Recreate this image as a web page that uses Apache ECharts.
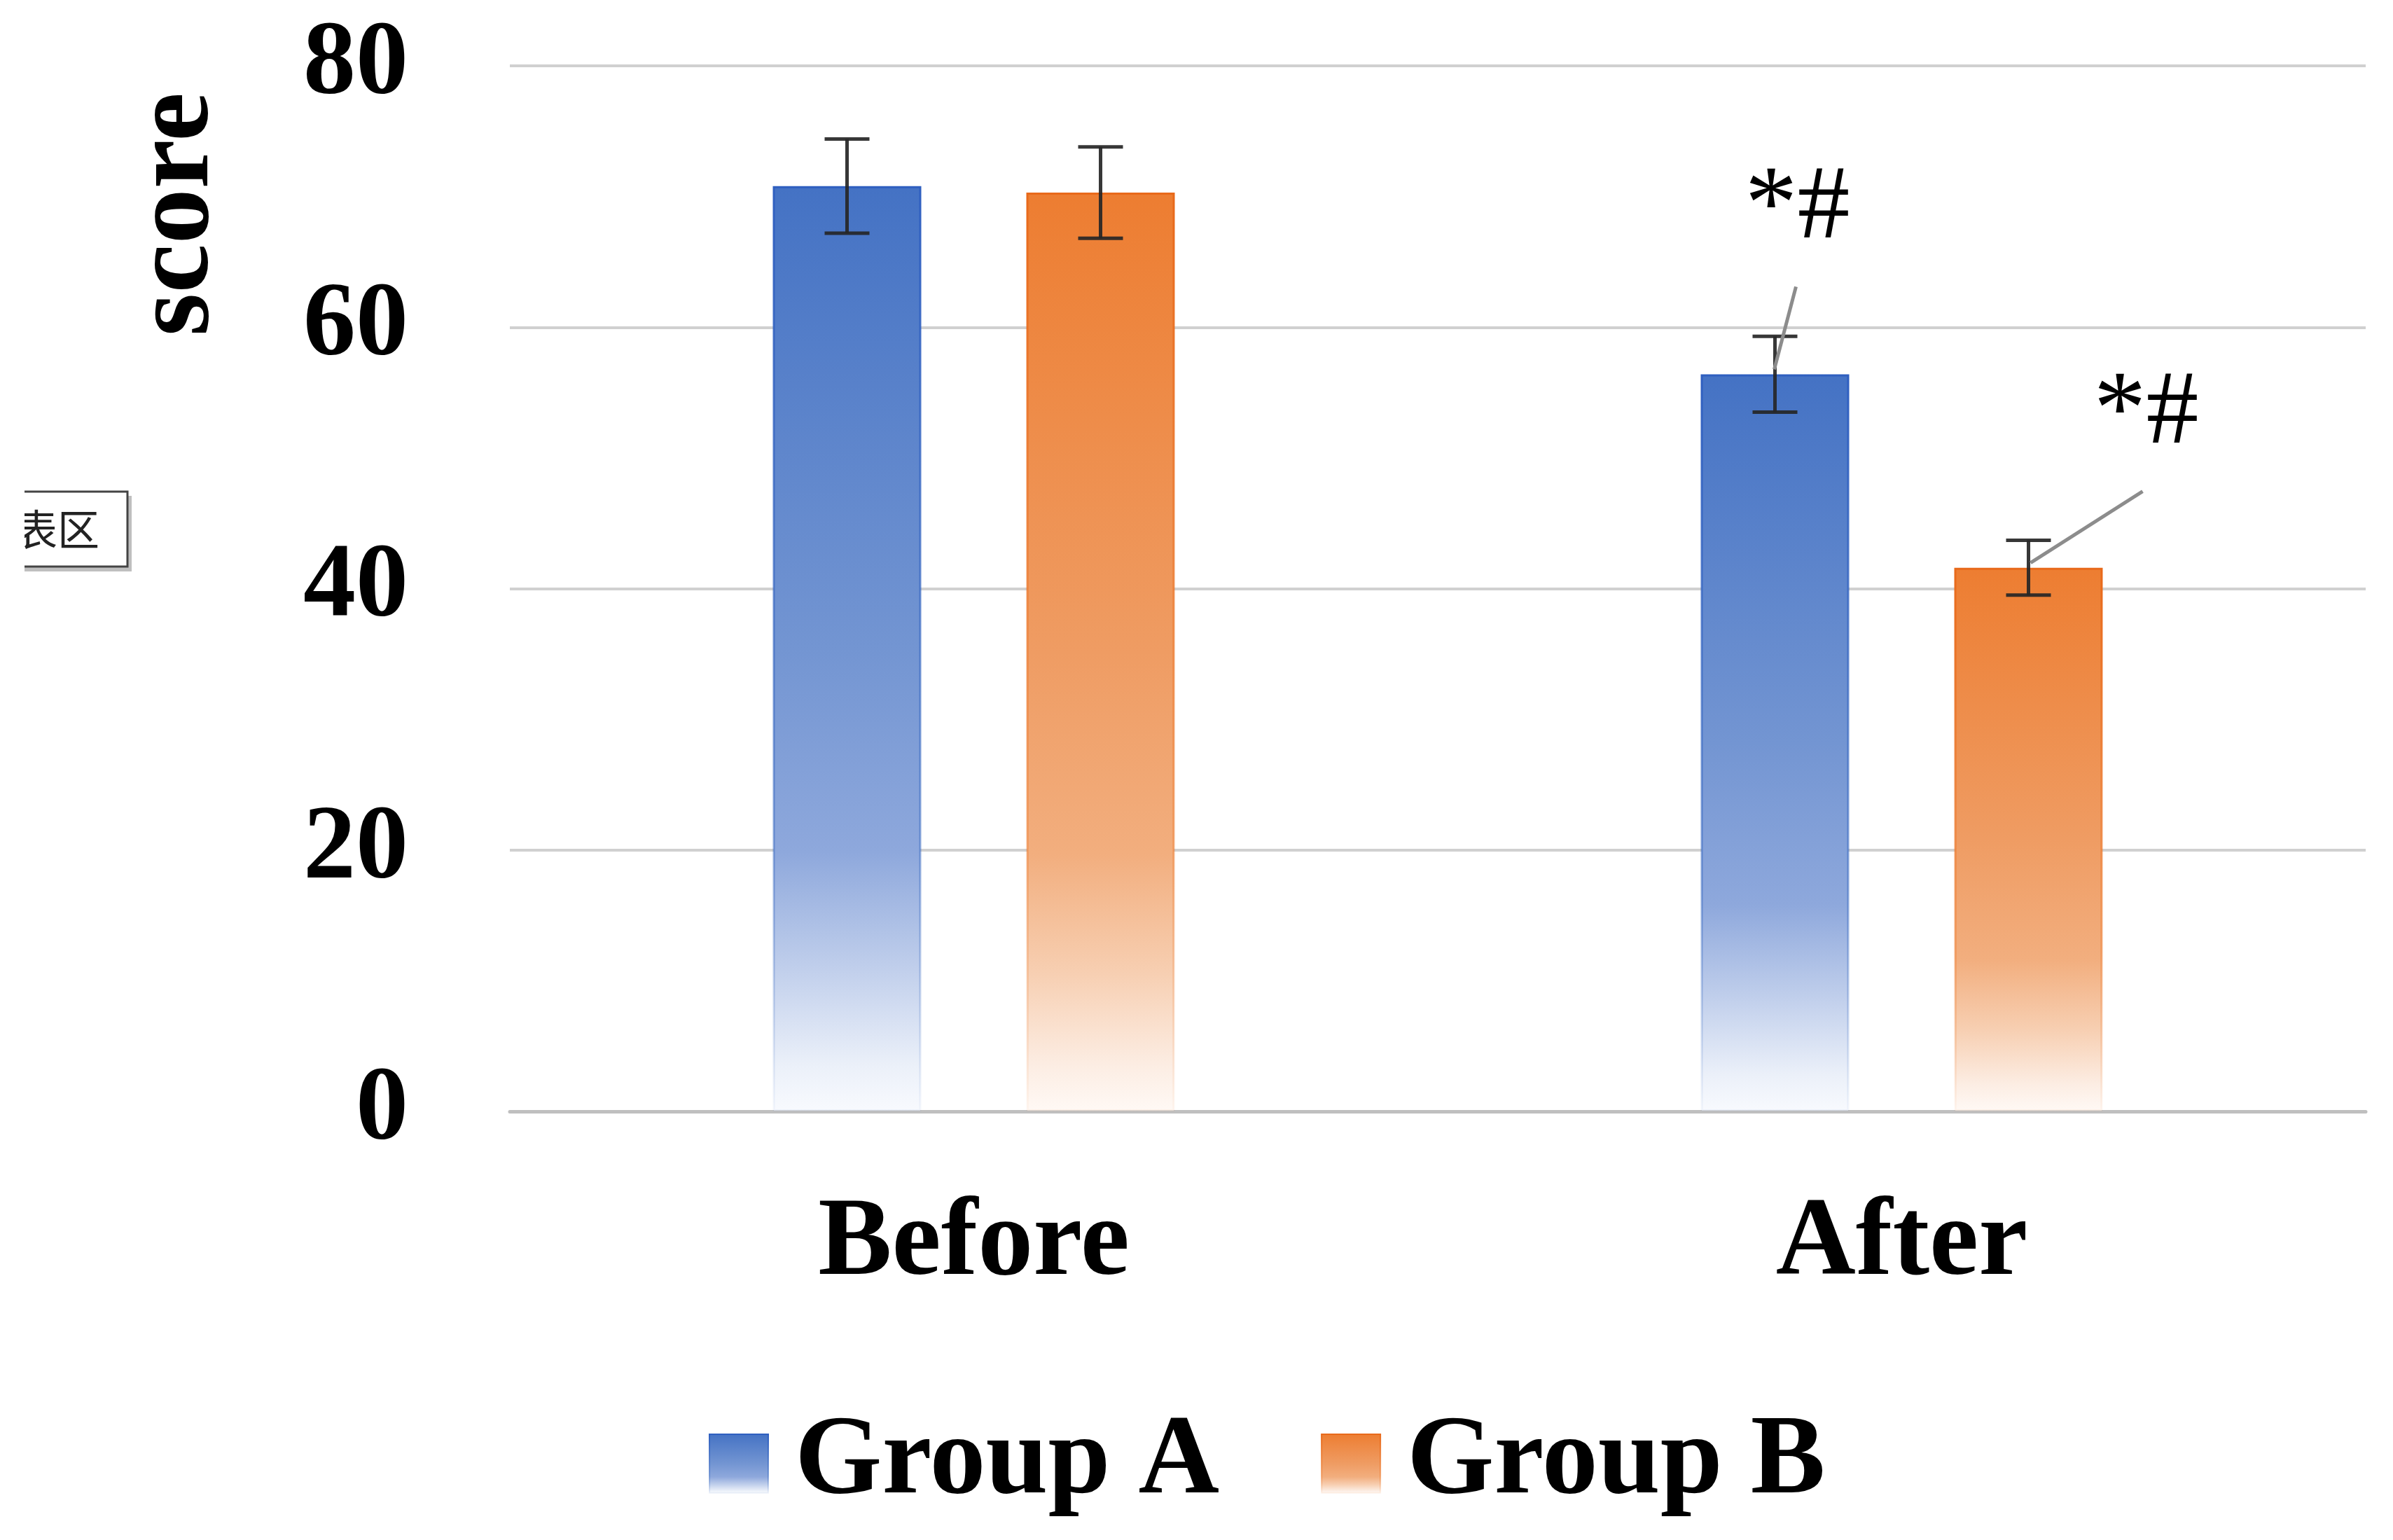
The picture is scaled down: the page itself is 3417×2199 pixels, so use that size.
<!DOCTYPE html>
<html>
<head>
<meta charset="utf-8">
<script src="https://cdn.jsdelivr.net/npm/echarts@6/dist/echarts.min.js"></script>
<style>
html,body{margin:0;padding:0;background:#fff;}
#chart{width:3417px;height:2199px;}
</style>
</head>
<body>
<div id="chart"></div>
<script>
// ---- data ----
const categories = ['Before', 'After'];
const seriesNames = ['Group A', 'Group B'];
const groupA = [70.8, 56.4];
const groupB = [70.3, 41.6];
const errA = [3.6, 2.9];
const errB = [3.5, 2.1];
const marksA = ['', '*#'];
const marksB = ['', '*#'];
const yMin = 0, yMax = 80, yStep = 20;
const axisTitle = 'score';
const popupText = '表区';

// ---- styles ----
const SERIF = '"Liberation Serif", "Times New Roman", serif';
const BAR_W = 212;
const BAR_GAP = 150;
const OFF = (BAR_W + BAR_GAP) / 2;

function grad(stops) {
  return new echarts.graphic.LinearGradient(0, 0, 0, 1, stops.map(s => ({offset: s[0], color: s[1]})));
}
const blueFill = grad([[0,'#4472C4'],[0.5,'#7395D2'],[0.72,'#8EA8DC'],[0.85,'#C2D0EC'],[0.95,'#EBF0F9'],[1,'#F8FAFE']]);
const orangeFill = grad([[0,'#ED7D31'],[0.5,'#EF9C63'],[0.72,'#F2AE7E'],[0.85,'#F7CFB2'],[0.95,'#FCEDE3'],[1,'#FFF9F5']]);
const blueEdge = grad([[0,'#2F5FC0'],[0.7,'rgba(68,114,196,0.6)'],[1,'rgba(68,114,196,0.05)']]);
const orangeEdge = grad([[0,'#E8691A'],[0.7,'rgba(237,125,49,0.6)'],[1,'rgba(237,125,49,0.05)']]);

function errorSeries(means, errs, dir) {
  return {
    type: 'custom',
    z: 5,
    silent: true,
    data: categories.map((c, i) => [i, means[i], errs[i]]),
    renderItem: function (params, api) {
      const i = api.value(0), m = api.value(1), e = api.value(2);
      const hi = api.coord([i, m + e]);
      const lo = api.coord([i, m - e]);
      const x = hi[0] + dir * OFF;
      const cap = 32;
      const st = {stroke: '#262626', lineWidth: 5, opacity: 0.92};
      return {
        type: 'group',
        children: [
          {type: 'line', shape: {x1: x, y1: hi[1], x2: x, y2: lo[1]}, style: st},
          {type: 'line', shape: {x1: x - cap, y1: hi[1], x2: x + cap, y2: hi[1]}, style: st},
          {type: 'line', shape: {x1: x - cap, y1: lo[1], x2: x + cap, y2: lo[1]}, style: st}
        ]
      };
    }
  };
}

function markSeries(means, marks, dir, lineStart, lineEnd, textPos) {
  return {
    type: 'custom',
    z: 6,
    silent: true,
    data: categories.map((c, i) => [i, means[i], marks[i]]).filter(d => d[2]),
    renderItem: function (params, api) {
      const i = api.value(0), m = api.value(1);
      const p = api.coord([i, m]);
      const x = p[0] + dir * OFF, y = p[1];
      const txt = marks[i];
      return {
        type: 'group',
        children: [
          {type: 'line', shape: {x1: x + lineStart[0], y1: y + lineStart[1], x2: x + lineEnd[0], y2: y + lineEnd[1]},
           style: {stroke: '#8C8C8C', lineWidth: 5}},
          {type: 'text', x: x + textPos[0], y: y + textPos[1],
           style: {text: txt, fill: '#000', font: 'normal 150px ' + SERIF, align: 'center', verticalAlign: 'middle'}}
        ]
      };
    }
  };
}

const chart = echarts.init(document.getElementById('chart'), null, {renderer: 'canvas'});
chart.setOption({
  backgroundColor: '#ffffff',
  animation: false,
  grid: {left: 728, right: 39, top: 94, bottom: 612, containLabel: false},
  legend: {
    data: seriesNames,
    left: 1007,
    top: 2005,
    icon: 'rect',
    itemWidth: 84,
    itemHeight: 84,
    itemGap: 145,
    textStyle: {fontFamily: SERIF, fontWeight: 'bold', fontSize: 160, color: '#000', padding: [0, 0, 0, 33]}
  },
  xAxis: {
    type: 'category',
    data: categories,
    axisLine: {show: true, lineStyle: {color: '#BFBFBF', width: 5}},
    axisTick: {show: false},
    axisLabel: {fontFamily: SERIF, fontWeight: 'bold', fontSize: 158, color: '#000', margin: 112}
  },
  yAxis: {
    type: 'value',
    min: yMin, max: yMax, interval: yStep,
    axisLine: {show: false},
    axisTick: {show: false},
    splitLine: {lineStyle: {color: '#D0D0D0', width: 4}},
    axisLabel: {fontFamily: SERIF, fontWeight: 'bold', fontSize: 150, color: '#000', margin: 145}
  },
  series: [
    {name: seriesNames[0], type: 'bar', data: groupA, barWidth: BAR_W, barGap: (BAR_GAP / BAR_W * 100).toFixed(2) + '%',
     itemStyle: {color: blueFill, borderColor: blueEdge, borderWidth: 3}},
    {name: seriesNames[1], type: 'bar', data: groupB, barWidth: BAR_W,
     itemStyle: {color: orangeFill, borderColor: orangeEdge, borderWidth: 3}},
    errorSeries(groupA, errA, -1),
    errorSeries(groupB, errB, 1),
    markSeries(groupA, marksA, -1, [-1, -7], [30, -125], [32, -235]),
    markSeries(groupB, marksB, 1, [3, -7], [163, -109], [168, -218])
  ],
  graphic: [
    {type: 'text', x: 255, y: 306, rotation: Math.PI / 2,
     style: {text: axisTitle, fill: '#000', font: 'bold 158px ' + SERIF, align: 'center', verticalAlign: 'middle'}},
    {type: 'rect', shape: {x: 8, y: 708, width: 180, height: 108}, style: {fill: 'rgba(0,0,0,0.25)'}, z: 1},
    {type: 'rect', shape: {x: -20, y: 702, width: 202, height: 107}, style: {fill: '#fff', stroke: '#444', lineWidth: 3}, z: 2},
    {type: 'text', x: 22, y: 756, style: {text: popupText, fill: '#222', font: 'normal 60px "Noto Sans CJK SC", sans-serif', align: 'left', verticalAlign: 'middle'}, z: 3},
    {type: 'rect', shape: {x: 0, y: 690, width: 35, height: 140}, style: {fill: '#fff'}, z: 4}
  ]
});
</script>
</body>
</html>
